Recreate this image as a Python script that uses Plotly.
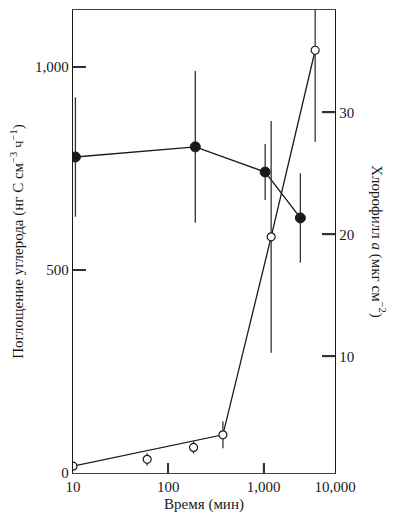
import plotly.graph_objects as go

# carbon uptake (filled circles, left axis)
uptake_time = [10.6, 192, 1038, 2430]
uptake = [778, 803, 741, 628]
uptake_err = [147, 187, 69, 110]

# chlorophyll a (open circles, right axis)
chl_time = [10, 60, 184, 374, 1200, 3475]
chl = [1.0, 1.56, 2.54, 3.57, 19.8, 35.1]
chl_err = [0.15, 0.5, 0.5, 1.1, 9.5, 7.5]
# points joined by the drawn line
chl_line_time = [10, 374, 1200, 3475]
chl_line = [1.0, 3.57, 19.8, 35.1]

time_ticks = [10, 100, 1000, 5610]
time_labels = ['10', '100', '1,000', '10,000']
uptake_ticks = [0, 500, 1000]
uptake_labels = ['0', '500', '1,000']
chl_ticks = [10, 20, 30]

serif = 'Liberation Serif'
ink = '#1a1a1a'

fig = go.Figure()

fig.add_trace(go.Scatter(x=uptake_time, y=uptake, mode='lines',
                         line=dict(color=ink, width=1.3), showlegend=False))
fig.add_trace(go.Scatter(x=chl_line_time, y=chl_line, mode='lines', yaxis='y2',
                         line=dict(color=ink, width=1.3), showlegend=False))

fig.add_trace(go.Scatter(x=uptake_time, y=uptake, mode='markers',
                         marker=dict(size=10, color=ink, line=dict(color=ink, width=1)),
                         error_y=dict(type='data', array=uptake_err, width=0,
                                      thickness=1.3, color='#333'),
                         showlegend=False))
fig.add_trace(go.Scatter(x=chl_time, y=chl, mode='markers', yaxis='y2',
                         marker=dict(size=8, color='white', line=dict(color=ink, width=1.2)),
                         error_y=dict(type='data', array=chl_err, width=0,
                                      thickness=1.3, color='#333'),
                         showlegend=False))

# inside tick marks (native ones don't show up in the screenshot), drawn as shapes
plot_w, plot_h = 392 - 130, 509 - 46
tick_line = dict(color='#333', width=1.5)
for t in time_ticks[1:3]:
    fig.add_shape(type='line', xref='x', yref='y domain', x0=t, x1=t,
                  y0=0, y1=10 / plot_h, line=tick_line, layer='above')
for t in uptake_ticks[1:]:
    fig.add_shape(type='line', xref='x domain', yref='y', x0=0, x1=13 / plot_w,
                  y0=t, y1=t, line=tick_line, layer='above')
for t in chl_ticks:
    fig.add_shape(type='line', xref='x domain', yref='y2', x0=1 - 13 / plot_w, x1=1,
                  y0=t, y1=t, line=tick_line, layer='above')

# page body adds an 8px offset, so the figure is a bit smaller than the window
fig.update_layout(
    width=392, height=509,
    margin=dict(l=65, r=65, t=2, b=44),
    paper_bgcolor='white', plot_bgcolor='white',
    font=dict(family=serif, size=15, color=ink),
    xaxis=dict(type='log', range=[1, 3.749], tickvals=time_ticks, ticktext=time_labels,
               ticks='inside', ticklen=10, tickwidth=2, tickcolor='#333',
               showgrid=False, zeroline=False,
               showline=True, linecolor='#444', linewidth=1.3, mirror=True,
               title=dict(text='Время (мин)', standoff=4, font=dict(size=15))),
    yaxis=dict(range=[0, 1140], tickvals=uptake_ticks, ticktext=uptake_labels,
               ticks='inside', ticklen=13, tickwidth=2, tickcolor='#333',
               showgrid=False, zeroline=False,
               showline=True, linecolor=ink, linewidth=1.3,
               title=dict(text='Поглощение углерода (нг С см<sup>−3</sup> ч<sup>−1</sup>)',
                          standoff=10, font=dict(size=15))),
    yaxis2=dict(overlaying='y', side='right', range=[0.44, 38.4], tickvals=chl_ticks,
                ticks='inside', ticklen=13, tickwidth=2, tickcolor='#333',
                showgrid=False, zeroline=False,
                showline=True, linecolor=ink, linewidth=1.3),
    annotations=[dict(text='Хлорофилл <i>a</i> (мкг см<sup>−2</sup>)', textangle=90,
                      xref='paper', yref='paper', x=1.165, y=0.5, showarrow=False,
                      xanchor='center', yanchor='middle', font=dict(size=15))],
)

fig.write_html("out.html")
